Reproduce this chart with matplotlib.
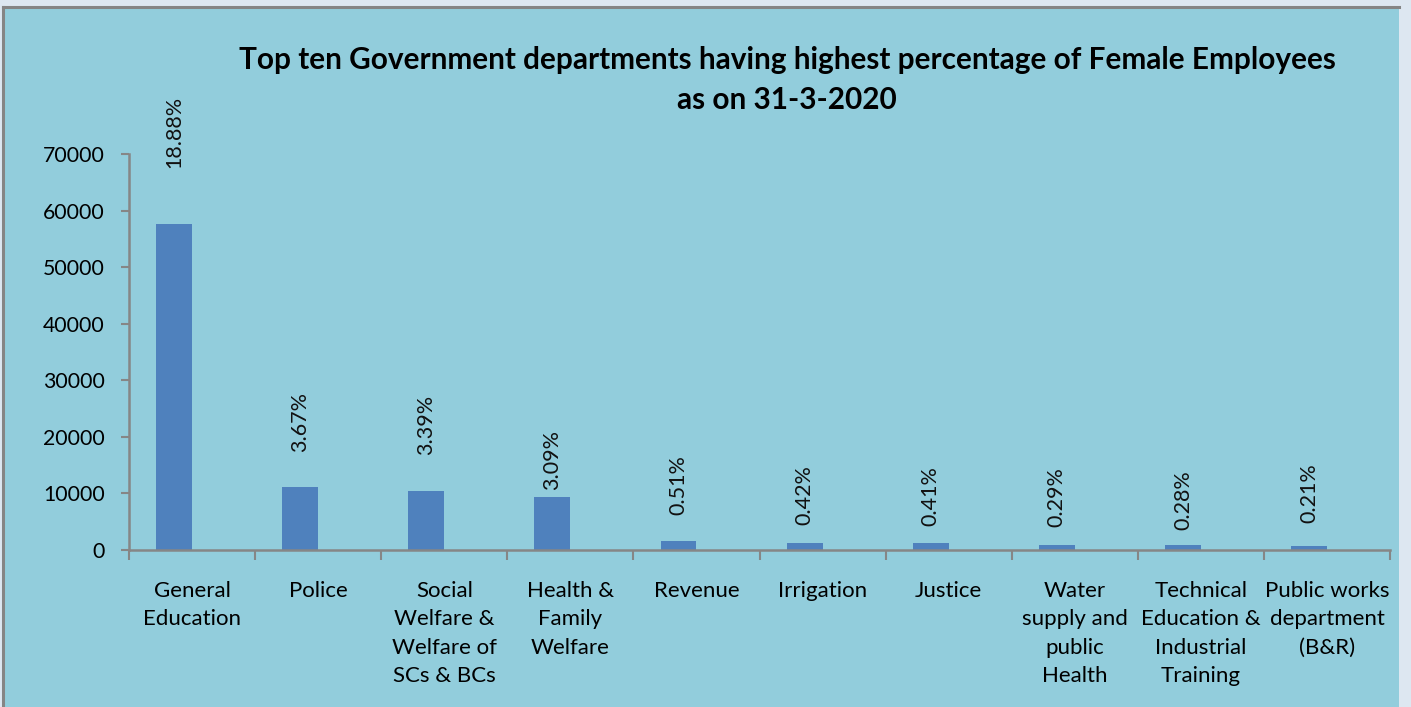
import numpy as np
import matplotlib
matplotlib.use('Agg')
import matplotlib.pyplot as plt
from matplotlib.patches import Rectangle
from matplotlib.lines import Line2D

# data
departments = ['General\nEducation', 'Police', 'Social\nWelfare &\nWelfare of\nSCs & BCs',
               'Health &\nFamily\nWelfare', 'Revenue', 'Irrigation', 'Justice',
               'Water\nsupply and\npublic\nHealth', 'Technical\nEducation &\nIndustrial\nTraining',
               'Public works\ndepartment\n(B&R)']
employees = [57630, 11200, 10350, 9430, 1560, 1280, 1250, 890, 850, 640]
pct_labels = ['18.88%', '3.67%', '3.39%', '3.09%', '0.51%', '0.42%', '0.41%',
              '0.29%', '0.28%', '0.21%']
yticks = [0, 10000, 20000, 30000, 40000, 50000, 60000, 70000]

# label gaps above bars (points), tuned by eye
label_gap = [40, 25, 26, 5, 19, 13, 12, 13, 11, 17]

W, H = 1411, 707
fig = plt.figure(figsize=(W / 100, H / 100), dpi=100)
fig.patch.set_facecolor('#dde7f1')
plt.rcParams['font.family'] = ['Lato', 'DejaVu Sans']

# blue panel with grey top/left border
fig.patches.append(Rectangle((3 / W, -0.02), (1399 - 3) / W, 1.02 - 7 / H,
                             transform=fig.transFigure, facecolor='#92cddc',
                             edgecolor='none', zorder=-10))
fig.lines.append(Line2D([3 / W, 1399 / W], [1 - 7 / H, 1 - 7 / H], transform=fig.transFigure,
                        color='#858585', lw=2.2, zorder=-5))
fig.lines.append(Line2D([3 / W, 3 / W], [0, 1 - 7 / H], transform=fig.transFigure,
                        color='#858585', lw=2.2, zorder=-5))

ax = fig.add_axes([129 / W, 1 - 550 / H, (1390 - 129) / W, (550 - 154) / H])
ax.set_facecolor('none')

x = np.arange(len(departments))
bw = 0.285
ax.bar(x - bw / 2, employees, width=bw, color='#4f81bd', zorder=2)

for xi, v, lab, g in zip(x, employees, pct_labels, label_gap):
    ax.annotate(lab, (xi - bw / 2, v), xytext=(0, g), textcoords='offset points',
                rotation=90, ha='center', va='bottom', fontsize=15.5, color='#111111')

ax.set_xlim(-0.5, len(departments) - 0.5)
ax.set_ylim(0, 70000)
ax.set_yticks(yticks)
ax.set_yticklabels([str(t) for t in yticks], fontsize=15.3)
ax.set_xticks(x)
ax.set_xticklabels(departments, fontsize=16, linespacing=1.53, va='top')
ax.set_xticks(np.arange(len(departments) + 1) - 0.5, minor=True)
ax.tick_params(axis='x', which='major', length=0, pad=22)
ax.tick_params(axis='x', which='minor', length=7, width=1.5, color='#868686', direction='out')
ax.tick_params(axis='y', length=6, width=1.5, color='#868686', pad=11.5)

for s in ['top', 'right']:
    ax.spines[s].set_visible(False)
for s in ['left', 'bottom']:
    ax.spines[s].set_color('#868686')
    ax.spines[s].set_linewidth(1.8)

fig.text(787 / W, 1 - 60 / H, 'Top ten Government departments having highest percentage of Female Employees',
         ha='center', va='center', fontsize=21.4, fontweight='bold')
fig.text(787 / W, 1 - 100 / H, 'as on 31-3-2020', ha='center', va='center',
         fontsize=21.4, fontweight='bold')

fig.savefig('out.png', dpi=100, facecolor=fig.get_facecolor())
